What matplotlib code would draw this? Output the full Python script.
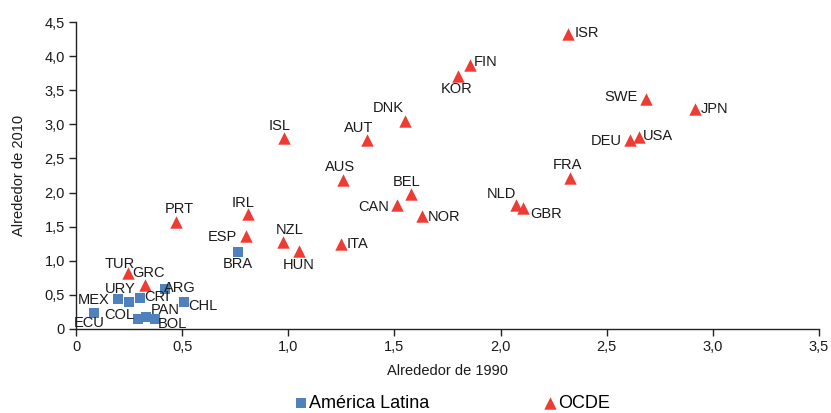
import numpy as np
import matplotlib
matplotlib.use('Agg')
import matplotlib.pyplot as plt
from matplotlib.ticker import FuncFormatter, MultipleLocator

plt.rcParams['font.family'] = ['Liberation Sans', 'DejaVu Sans']

#------------------------------------------#
# Data
la_names = ['ECU', 'MEX', 'URY', 'CRI', 'ARG', 'CHL', 'COL', 'PAN', 'BOL', 'BRA']
la_1990 = [0.085, 0.20, 0.25, 0.30, 0.42, 0.51, 0.29, 0.33, 0.37, 0.765]
la_2010 = [0.235, 0.44, 0.39, 0.46, 0.59, 0.40, 0.14, 0.18, 0.14, 1.13]

oc_names = ['TUR', 'GRC', 'PRT', 'ESP', 'IRL', 'ISL', 'NZL', 'HUN', 'ITA', 'AUS',
            'AUT', 'DNK', 'CAN', 'BEL', 'NOR', 'KOR', 'FIN', 'NLD', 'GBR', 'ISR',
            'FRA', 'SWE', 'DEU', 'USA', 'JPN']
oc_1990 = [0.243, 0.326, 0.47, 0.80, 0.81, 0.98, 0.974, 1.05, 1.25, 1.256,
           1.37, 1.55, 1.51, 1.58, 1.63, 1.80, 1.858, 2.073, 2.107, 2.32,
           2.325, 2.686, 2.61, 2.654, 2.916]
oc_2010 = [0.82, 0.645, 1.57, 1.36, 1.69, 2.80, 1.28, 1.14, 1.24, 2.19,
           2.77, 3.05, 1.82, 1.98, 1.65, 3.71, 3.87, 1.82, 1.77, 4.32,
           2.21, 3.37, 2.77, 2.81, 3.23]

#------------------------------------------#
# Label offsets in pixels (dx right, dy up)
la_off = [(-5, -10), (-25, -1), (-9, 13), (17, 1), (15, 1), (19, -4),
          (-18, 4), (19, 7), (18, -5), (-1, -12)]
oc_off = [(-8, 9), (3, 12), (4, 13), (-23, -1), (-5, 11), (-4, 12), (7, 12),
          (0, -14), (16, 0), (-3, 13), (-8, 12), (-17, 13), (-23, -2), (-5, 12),
          (22, -1), (-1, -13), (15, 3), (-15, 11), (23, -6), (18, 1), (-2, 13),
          (-25, 2), (-24, -1), (19, 1), (20, 0)]

blue = '#4F81BD'
red = '#EE3B33'
dpi = 100

fig = plt.figure(figsize=(8.31, 4.13), dpi=dpi)
ax = fig.add_axes([0.0915, 0.2034, 0.894, 0.7433])

ax.scatter(la_1990, la_2010, marker='s', s=52, color=blue, linewidths=0,
           label='América Latina', zorder=3)
ax.scatter(oc_1990, oc_2010, marker='^', s=80, color=red, linewidths=0,
           label='OCDE', zorder=3)

k = 72.0 / dpi
for names, xs, ys, offs in [(la_names, la_1990, la_2010, la_off),
                            (oc_names, oc_1990, oc_2010, oc_off)]:
    for n, x, y, (dx, dy) in zip(names, xs, ys, offs):
        ax.annotate(n, (x, y), xytext=(dx * k, dy * k), textcoords='offset points',
                    ha='center', va='center', fontsize=10.5, color='#1a1a1a')

ax.set_xlim(0, 3.5)
ax.set_ylim(0, 4.5)
ax.xaxis.set_major_locator(MultipleLocator(0.5))
ax.yaxis.set_major_locator(MultipleLocator(0.5))
fmt = FuncFormatter(lambda v, p: '0' if abs(v) < 1e-9 else f'{v:.1f}'.replace('.', ','))
ax.xaxis.set_major_formatter(fmt)
ax.yaxis.set_major_formatter(fmt)

for s in ['top', 'right']:
    ax.spines[s].set_visible(False)
for s in ['left', 'bottom']:
    ax.spines[s].set_color('#222222')
    ax.spines[s].set_linewidth(1.0)
ax.tick_params(axis='both', direction='out', length=5, width=1.0,
               color='#222222', labelsize=10.5, labelcolor='#1a1a1a', pad=3)

ax.set_xlabel('Alrededor de 1990', fontsize=10.5, color='#1a1a1a', labelpad=7)
ax.set_ylabel('Alrededor de 2010', fontsize=10.5, color='#1a1a1a', labelpad=13)

fig.legend(loc='center', bbox_to_anchor=(0.543, 0.024), ncol=2, frameon=False,
           fontsize=13, handletextpad=0.0, columnspacing=6.2, handlelength=0.9,
           scatterpoints=1)

fig.savefig('out.png', dpi=dpi)
